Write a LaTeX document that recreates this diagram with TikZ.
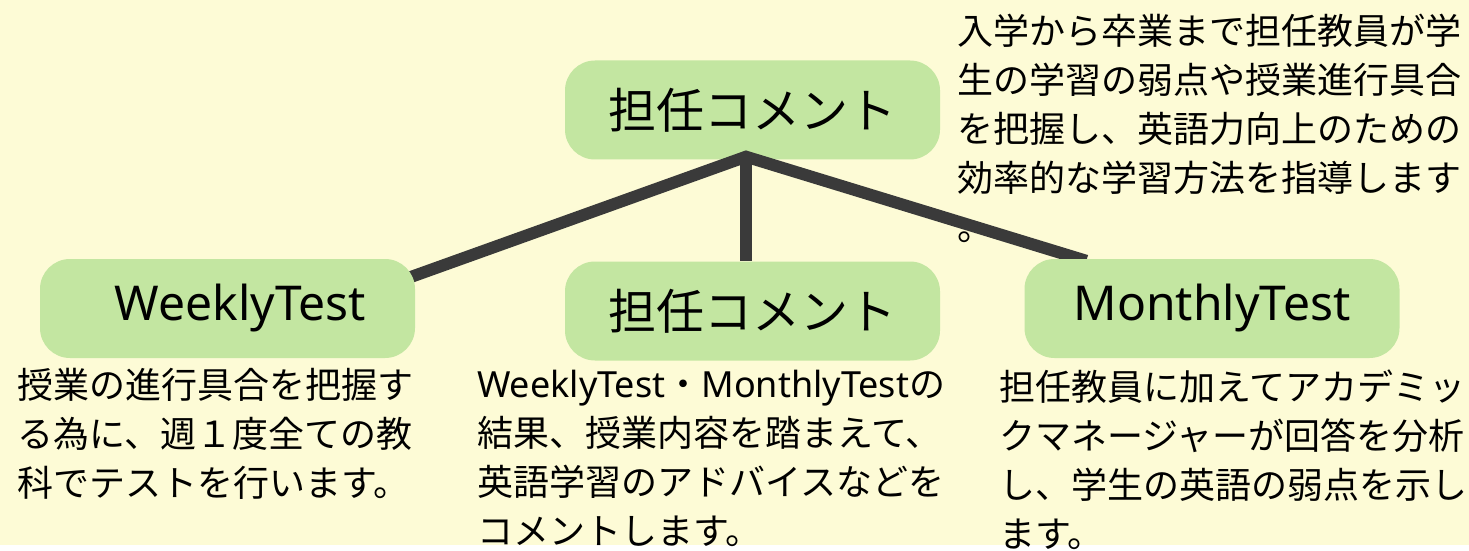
\documentclass[tikz,border=0pt]{standalone}
\usepackage{fontspec}
\setmainfont{Noto Sans CJK JP}
\newfontfamily\lat{Noto Sans}
\usetikzlibrary{calc}
\definecolor{bgyellow}{HTML}{FDFBD6}
\definecolor{boxgreen}{HTML}{C3E6A1}
\definecolor{linegray}{HTML}{3A3A3A}
\pgfdeclarelayer{back}
\pgfdeclarelayer{mid}
\pgfsetlayers{back,mid,main}
\tikzset{
  box/.style={fill=boxgreen, rounded corners=30pt, minimum width=375pt, minimum height=99pt, inner sep=0pt, font=\fontsize{48}{58}\selectfont},
  desc/.style={anchor=north west, inner sep=0pt, align=left, font=\fontsize{36}{49}\selectfont},
  conn/.style={draw=linegray, line width=12pt, line join=miter}
}
\begin{document}
\begin{tikzpicture}[x=1pt,y=-1pt]
\begin{pgfonlayer}{back}
\fill[bgyellow] (0,0) rectangle (1469,545);
\useasboundingbox (0,0) rectangle (1469,545);
\node[box] (top) at (752.5,110) {担任コメント};
\end{pgfonlayer}
\node[box] (wk) at (227.5,308.5) {\lat\hspace*{26pt}WeeklyTest};
\node[box] (md) at (752.5,311) {担任コメント};
\node[box] (mt) at (1212,308.5) {\lat MonthlyTest};
\coordinate (apex) at ($(top.south)+(-6.5,-3)$);
\coordinate (wkend) at ($(wk.north east)+(-15,22)$);
\coordinate (mtend) at ($(mt.north west)+(62,2)$);
\begin{pgfonlayer}{mid}
\draw[conn] (wkend) -- (apex) -- (mtend);
\draw[conn] (apex) -- (apex |- md.north);
\end{pgfonlayer}
\node[desc] (dtop) at (957,14) {入学から卒業まで担任教員が学\\生の学習の弱点や授業進行具合\\を把握し、英語力向上のための\\効率的な学習方法を指導します\\。};
\node[desc] (dwk) at (17,368) {授業の進行具合を把握す\\る為に、週１度全ての教\\科でテストを行います。};
\node[desc] (dmd) at (477,370) {{\lat WeeklyTest}・{\lat MonthlyTest}の\\結果、授業内容を踏まえて、\\英語学習のアドバイスなどを\\コメントします。};
\node[desc] (dmt) at (999,370) {担任教員に加えてアカデミッ\\クマネージャーが回答を分析\\し、学生の英語の弱点を示し\\ます。};
\end{tikzpicture}
\end{document}
